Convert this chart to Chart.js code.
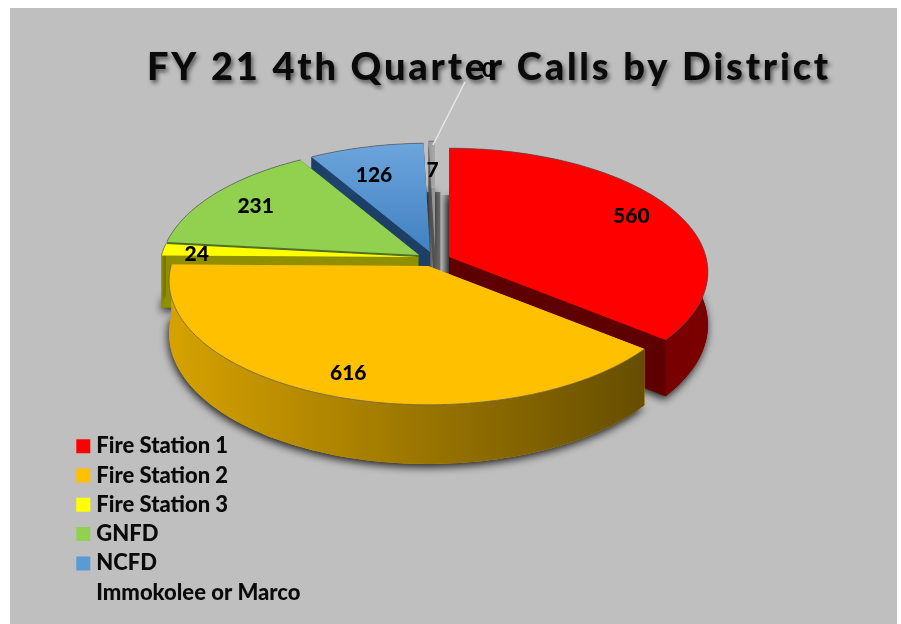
<!DOCTYPE html>
<html>
<head>
<meta charset="utf-8">
<title>FY 21 4th Quarter Calls by District</title>
<script src="https://cdn.jsdelivr.net/npm/chart.js@4"></script>
<style>
  html, body { margin: 0; padding: 0; background: #fff; }
  #wrap { width: 901px; height: 624px; }
</style>
</head>
<body>
<div id="wrap"><canvas id="pieCanvas" width="901" height="624"></canvas></div>
<script>
  // chart data
  var categories = ["Fire Station 1", "Fire Station 2", "Fire Station 3", "GNFD", "NCFD", "Immokolee or Marco", ""];
  var calls = [560, 616, 24, 231, 126, 7, 0];

  // slice styles
  var topColors = ["#ff0000", "#ffc000", "#ffff00", "#92d050", "#5b9bd5", "rgba(232,232,232,0.45)", "rgba(0,0,0,0)"];
  var rimColors = [["#5e0000", "#7c0000"], ["#d6a200", "#664e00"], ["#8f8f00", "#6f6f00"], ["#4f7028", "#3f5a20"], ["#1d3f66", "#24507f"], ["#555555", "#777777"], ["#555555", "#555555"]];
  var legendColors = ["#ff0000", "#ffc000", "#ffff00", "#92d050", "#5b9bd5", "rgba(0,0,0,0)", "rgba(0,0,0,0)"];

  // where the point of each exploded slice sits on the page, and how far out its label goes
  var sliceApex = [[449, 257], [428, 266], [418, 257], [419, 255], [430, 252], [435, 250], [435, 250]];
  var labelRadius = [0.82, 0.83, 0.86, 0.78, 0.73, 0.7, 0];
  var labelNudge = [[0, 1], [0, 2], [-2, 4], [-3, 0], [-8, 2], [0, -1], [0, 0]];
  var drawOrder = [5, 4, 3, 2, 0, 1];

  var RADIUS_X = 257;
  var RADIUS_Y = 122;
  var TILT = 0.121;
  var DEPTH = 52;

  /**
   * Projects a point on the unit disc to the page, nearer points come out bigger.
   * @param {number[]} apex Page position of the disc center.
   * @param {number} u Across the disc.
   * @param {number} v Towards the viewer.
   * @return {number[]} x, y, and the side depth at that point.
   */
  function project(apex, u, v) {
    var f = 1 - TILT * v;
    return [apex[0] + (RADIUS_X * u) / f, apex[1] + (RADIUS_Y * v) / f, DEPTH / f];
  }

  function arcPoints(arc, apex) {
    var pts = [];
    var steps = Math.max(2, Math.ceil((arc.endAngle - arc.startAngle) * 40));
    for (var i = 0; i <= steps; i++) {
      var a = arc.startAngle + ((arc.endAngle - arc.startAngle) * i) / steps;
      pts.push(project(apex, Math.cos(a), Math.sin(a)));
    }
    return pts;
  }

  function trace(ctx, pts, dropFn) {
    ctx.beginPath();
    pts.forEach(function (p, i) {
      var y = p[1] + dropFn(p);
      if (i === 0) ctx.moveTo(p[0], y);
      else ctx.lineTo(p[0], y);
    });
    ctx.closePath();
  }

  function noDrop() { return 0; }
  function fullDrop(p) { return p[2]; }

  // dark bands of shadow in the gap behind the thin slice
  function gapShadow(ctx) {
    var left = ctx.createLinearGradient(427, 0, 441, 0);
    left.addColorStop(0, "#555555");
    left.addColorStop(0.4, "#a0a0a0");
    left.addColorStop(0.6, "#666666");
    left.addColorStop(0.9, "#707070");
    left.addColorStop(1, "#bfbfbf");
    ctx.fillStyle = left;
    ctx.fillRect(427, 192, 14, 78);

    var right = ctx.createLinearGradient(441, 0, 449, 0);
    right.addColorStop(0, "#bfbfbf");
    right.addColorStop(1, "#707070");
    ctx.fillStyle = right;
    ctx.fillRect(441, 195, 8, 78);
  }

  var solidPie = {
    id: "solidPie",
    beforeDatasetDraw: function (chart, args) {
      var ctx = chart.ctx;
      var arcs = args.meta.data;
      gapShadow(ctx);
      drawOrder.forEach(function (i) {
        var arc = arcs[i];
        var apex = sliceApex[i];
        var center = project(apex, 0, 0);
        var rim = arcPoints(arc, apex);
        var wedge = [center].concat(rim);
        var xs = rim.map(function (p) { return p[0]; });
        var grad = ctx.createLinearGradient(Math.min.apply(null, xs), 0, Math.max.apply(null, xs), 0);
        grad.addColorStop(0, rimColors[i][0]);
        grad.addColorStop(1, rimColors[i][1]);

        // underside, it throws the soft shadow
        ctx.save();
        ctx.shadowColor = "rgba(0,0,0,0.85)";
        ctx.shadowBlur = 9;
        ctx.shadowOffsetX = -1;
        ctx.shadowOffsetY = 3;
        ctx.fillStyle = rimColors[i][0];
        trace(ctx, wedge, fullDrop);
        ctx.fill();
        ctx.restore();

        // cut faces then the outer wall
        ctx.fillStyle = rimColors[i][0];
        [rim[0], rim[rim.length - 1]].forEach(function (p) {
          trace(ctx, [center, p, [p[0], p[1] + p[2], 0], [center[0], center[1] + center[2], 0]], noDrop);
          ctx.fill();
        });
        ctx.fillStyle = grad;
        trace(ctx, rim.concat(rim.slice().reverse().map(function (p) { return [p[0], p[1] + p[2], 0]; })), noDrop);
        ctx.fill();

        // top of the slice
        var fill = arc.options.backgroundColor;
        if (i === 4) {
          fill = ctx.createLinearGradient(0, 145, 0, 255);
          fill.addColorStop(0, "#6ca4dc");
          fill.addColorStop(1, "#3f80c0");
        }
        ctx.fillStyle = fill;
        trace(ctx, wedge, noDrop);
        ctx.fill();

        ctx.strokeStyle = arc.options.borderColor;
        ctx.lineWidth = 1;
        ctx.beginPath();
        rim.forEach(function (p, k) {
          if (k === 0) ctx.moveTo(p[0], p[1]);
          else ctx.lineTo(p[0], p[1]);
        });
        ctx.stroke();
      });
      return false;
    },
    afterDatasetsDraw: function (chart) {
      var ctx = chart.ctx;
      var arcs = chart.getDatasetMeta(0).data;

      // leader line out to the zero value
      ctx.save();
      ctx.strokeStyle = "#e6e6e6";
      ctx.lineWidth = 1.5;
      ctx.beginPath();
      ctx.moveTo(433, 145);
      ctx.lineTo(465, 82);
      ctx.stroke();

      ctx.fillStyle = "#000";
      ctx.font = "900 21px Lato";
      ctx.textAlign = "center";
      ctx.textBaseline = "middle";
      calls.forEach(function (value, i) {
        if (value === 0) {
          ctx.fillText(String(value), 488, 70);
          return;
        }
        var mid = (arcs[i].startAngle + arcs[i].endAngle) / 2;
        var p = project(sliceApex[i], labelRadius[i] * Math.cos(mid), labelRadius[i] * Math.sin(mid));
        ctx.fillText(String(value), p[0] + labelNudge[i][0], p[1] + labelNudge[i][1]);
      });
      ctx.restore();
    }
  };

  var sheet = {
    id: "sheet",
    afterInit: function (chart) {
      // the title is drawn by the library, only spaced out and shadowed here
      var block = chart.titleBlock;
      var drawTitle = block.draw;
      block.draw = function () {
        var ctx = chart.ctx;
        ctx.save();
        ctx.letterSpacing = "2.8px";
        ctx.shadowColor = "rgba(0,0,0,0.55)";
        ctx.shadowBlur = 4;
        ctx.shadowOffsetX = 2;
        ctx.shadowOffsetY = 3;
        drawTitle.apply(this, arguments);
        ctx.restore();
      };
    },
    afterLayout: function (chart) {
      chart.titleBlock.left = 0;
      chart.titleBlock.right = 978;
    },
    beforeDraw: function (chart) {
      chart.ctx.fillStyle = "#bfbfbf";
      chart.ctx.fillRect(10, 8, 887, 616);
    }
  };

  window.onload = function () {
    var ctx = document.getElementById("pieCanvas").getContext("2d");
    window.myPie = new Chart(ctx, {
      type: "pie",
      data: {
        labels: categories,
        datasets: [
          {
            data: calls,
            backgroundColor: topColors,
            borderColor: "rgba(90,90,90,0.7)",
            borderWidth: 1,
          },
        ],
      },
      options: {
        responsive: false,
        animation: false,
        layout: { padding: { left: 74, right: 0, top: 8, bottom: 13 } },
        plugins: {
          title: {
            display: true,
            text: "FY 21 4th Quarter Calls by District",
            color: "#0a0a0a",
            font: { family: "Lato", size: 38, weight: "900" },
            padding: { top: 37, bottom: 0 },
          },
          legend: {
            position: "left",
            align: "end",
            labels: {
              // small box with a thick edge, it keeps the text close like the original
              boxWidth: 4,
              boxHeight: 4,
              padding: 7.3,
              color: "#0a0a0a",
              font: { family: "Lato", size: 22, weight: "900" },
              filter: function (item) {
                return item.text !== "";
              },
              generateLabels: function () {
                return categories.map(function (name, i) {
                  return {
                    text: name,
                    fontColor: "#0a0a0a",
                    fillStyle: legendColors[i],
                    strokeStyle: legendColors[i],
                    lineWidth: 10,
                    hidden: false,
                    index: i,
                  };
                });
              },
            },
          },
          tooltip: { enabled: false },
        },
      },
      plugins: [sheet, solidPie],
    });
  };
</script>
</body>
</html>
